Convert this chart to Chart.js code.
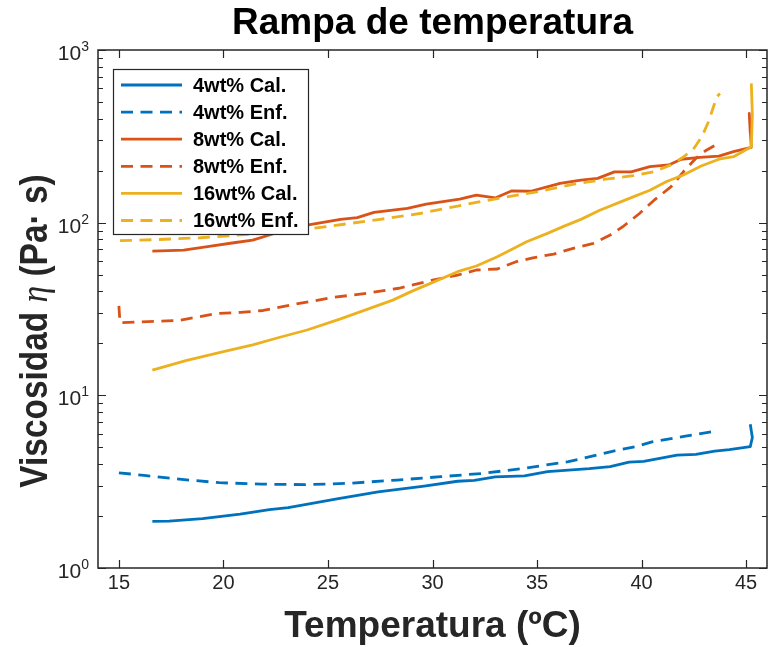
<!DOCTYPE html>
<html>
<head>
<meta charset="utf-8">
<script src="https://cdn.jsdelivr.net/npm/chart.js@4/dist/chart.umd.min.js"></script>
<style>
  html, body { margin: 0; padding: 0; background: #fff; }
  canvas { display: block; }
</style>
</head>
<body>
<canvas id="myChart" width="776" height="647"></canvas>
<script>
// temperatures (ºC) and viscosities (Pa·s)
const cal4T = [16.6, 17.4, 19.0, 20.8, 22.2, 23.1, 25.5, 27.4, 29.6, 31.2, 32.0, 33.0, 34.4, 35.5, 37.5, 38.5, 39.4, 40.1, 41.7, 42.6, 43.5, 44.2, 45.2, 45.3, 45.2];
const cal4V = [1.86, 1.87, 1.93, 2.05, 2.18, 2.24, 2.52, 2.76, 2.98, 3.18, 3.22, 3.37, 3.42, 3.62, 3.76, 3.86, 4.10, 4.15, 4.5, 4.55, 4.75, 4.85, 5.05, 5.7, 6.8];

const enf4T = [15.0, 16.2, 18.0, 19.8, 21.8, 23.9, 25.9, 28.3, 30.4, 32.4, 34.4, 36.5, 38.5, 39.7, 40.5, 42.1, 43.6];
const enf4V = [3.56, 3.44, 3.26, 3.12, 3.06, 3.04, 3.09, 3.23, 3.38, 3.53, 3.78, 4.13, 4.71, 5.04, 5.38, 5.81, 6.21];

const cal8T = [16.6, 18.1, 19.4, 20.5, 21.4, 22.7, 24.0, 25.6, 26.4, 27.2, 28.8, 29.7, 31.3, 32.1, 33.0, 33.8, 34.7, 36.1, 37.1, 37.9, 38.7, 39.5, 40.4, 41.3, 41.9, 42.8, 43.7, 44.4, 45.25, 45.15, 45.2];
const cal8V = [68.5, 69.4, 73.2, 76.5, 79.3, 88.6, 96.8, 104.5, 107, 114.7, 121, 128, 137, 144.5, 139, 153, 152, 169, 176.5, 180.5, 197, 197, 211, 216, 233, 239, 243, 258, 273, 430, 330];

const enf8T = [15.0, 15.05, 17.3, 17.9, 19.7, 20.8, 21.9, 23.7, 25.25, 26.85, 28.4, 30.0, 31.2, 32.1, 33.1, 34.0, 34.8, 35.8, 36.6, 37.7, 38.5, 39.1, 39.9, 40.6, 41.4, 42.0, 42.6, 43.1, 43.7];
const enf8V = [33, 26.3, 27.0, 27.2, 29.8, 30.2, 31.0, 34.2, 36.9, 39.0, 41.7, 46.5, 49.7, 53.2, 53.9, 59.4, 62.6, 65.8, 70.3, 75.9, 84.8, 94.7, 113, 135, 161, 197, 236, 263, 288];

const cal16T = [16.6, 18.2, 20.0, 21.4, 22.7, 24.0, 25.6, 27.0, 28.1, 29.0, 29.9, 31.2, 32.1, 33.1, 33.9, 34.5, 35.5, 36.3, 37.1, 38.0, 39.0, 39.6, 40.4, 41.2, 42.0, 42.85, 43.7, 44.4, 45.25, 45.3, 45.25];
const cal16V = [14.0, 15.9, 17.9, 19.6, 21.7, 23.9, 27.7, 31.9, 35.6, 40.0, 44.5, 52, 56.1, 63.5, 71, 77.5, 86.7, 95.5, 104.5, 118, 132, 141, 154, 173, 189, 213, 233, 241, 275, 420, 641];

const enf16T = [15.05, 16.8, 18.9, 21.5, 24.3, 26.05, 27.5, 29.4, 31.2, 33.1, 35.0, 36.7, 38.2, 38.7, 39.6, 40.6, 41.4, 42.0, 42.5, 42.9, 43.2, 43.6, 43.75];
const enf16V = [78.6, 79.8, 81.8, 86, 92.7, 99, 104.5, 113, 124.8, 138, 151, 166.7, 178, 181, 187, 197, 216, 240, 269, 317, 384, 536, 560];

const labels = ["4wt% Cal.", "4wt% Enf.", "8wt% Cal.", "8wt% Enf.", "16wt% Cal.", "16wt% Enf."];
const xTicks = [15, 20, 25, 30, 35, 40, 45];
const yTicks = [1, 10, 100, 1000];
const yTickExp = ["0", "1", "2", "3"];

const blue = "#0072BD", orange = "#D95319", yellow = "#EDB120";
const axisColor = "#262626";
const FONT = '"Liberation Sans", Arial, Helvetica, sans-serif';

function pts(t, v) {
  return t.map((x, i) => ({ x: x, y: v[i] }));
}

function line(i, t, v, color, dashed) {
  return {
    label: labels[i],
    data: pts(t, v),
    borderColor: color,
    backgroundColor: color,
    borderWidth: 2.8,
    borderDash: dashed ? [12, 7.5] : [],
    pointRadius: 0,
    tension: 0,
    fill: false,
    borderJoinStyle: "round",
    order: 5 - i,
  };
}

const datasets = [
  line(0, cal4T, cal4V, blue, false),
  line(1, enf4T, enf4V, blue, true),
  line(2, cal8T, cal8V, orange, false),
  line(3, enf8T, enf8V, orange, true),
  line(4, cal16T, cal16V, yellow, false),
  line(5, enf16T, enf16V, yellow, true),
];

// box, inward ticks, labels, titles and legend in the MATLAB look
const frame = {
  id: "frame",
  afterDatasetsDraw(chart) {
    const ctx = chart.ctx;
    const a = chart.chartArea;
    const xs = chart.scales.x;
    const ys = chart.scales.y;
    ctx.save();

    // ticks
    ctx.strokeStyle = axisColor;
    ctx.lineWidth = 1.2;
    ctx.setLineDash([]);
    ctx.beginPath();
    xTicks.forEach((v) => {
      const px = Math.round(xs.getPixelForValue(v)) + 0.5;
      ctx.moveTo(px, a.bottom); ctx.lineTo(px, a.bottom - 8);
      ctx.moveTo(px, a.top); ctx.lineTo(px, a.top + 8);
    });
    for (let e = 0; e < 3; e++) {
      for (let m = 1; m <= 10; m++) {
        const v = m * Math.pow(10, e);
        const py = Math.round(ys.getPixelForValue(v)) + 0.5;
        const len = (m === 1 || m === 10) ? 8 : 5;
        ctx.moveTo(a.left, py); ctx.lineTo(a.left + len, py);
        ctx.moveTo(a.right, py); ctx.lineTo(a.right - len, py);
      }
    }
    ctx.stroke();

    // box
    ctx.lineWidth = 1.5;
    ctx.strokeRect(a.left, a.top, a.right - a.left, a.bottom - a.top);

    // tick labels
    ctx.fillStyle = axisColor;
    ctx.font = "20px " + FONT;
    ctx.textAlign = "center";
    ctx.textBaseline = "middle";
    xTicks.forEach((v) => {
      ctx.fillText(String(v), xs.getPixelForValue(v), a.bottom + 15);
    });
    yTicks.forEach((v, i) => {
      const py = ys.getPixelForValue(v);
      ctx.font = "14px " + FONT;
      const ew = ctx.measureText(yTickExp[i]).width;
      ctx.textAlign = "right";
      ctx.textBaseline = "alphabetic";
      const right = a.left - 9;
      ctx.fillText(yTickExp[i], right, py + 1);
      ctx.font = "21px " + FONT;
      ctx.fillText("10", right - ew, py + 10);
    });

    // title
    ctx.fillStyle = "#000";
    ctx.font = "bold 37px " + FONT;
    ctx.textAlign = "center";
    ctx.textBaseline = "middle";
    ctx.fillText("Rampa de temperatura", (a.left + a.right) / 2, 24);

    // x axis title
    ctx.fillStyle = axisColor;
    ctx.font = "bold 37px " + FONT;
    ctx.fillText("Temperatura (ºC)", (a.left + a.right) / 2, 627);

    // y axis title, mixed fonts, slightly condensed along its length
    const parts = [
      ["Viscosidad ", "bold 38px " + FONT],
      ["η", 'italic 38px "Liberation Serif", "DejaVu Serif", serif'],
      [" (Pa· s)", "bold 38px " + FONT],
    ];
    const sq = 0.88;
    let total = 0;
    parts.forEach((p) => { ctx.font = p[1]; p.push(ctx.measureText(p[0]).width); total += p[2]; });
    ctx.translate(37, 331);
    ctx.rotate(-Math.PI / 2);
    ctx.scale(sq, 1);
    ctx.textAlign = "left";
    let cx = -total / 2;
    parts.forEach((p) => { ctx.font = p[1]; ctx.fillText(p[0], cx, 0); cx += p[2]; });
    ctx.setTransform(1, 0, 0, 1, 0, 0);

    // legend
    const lx = 113, ly = 69, lw = 195, lh = 165;
    ctx.fillStyle = "#fff";
    ctx.fillRect(lx, ly, lw, lh);
    ctx.strokeStyle = axisColor;
    ctx.lineWidth = 1.2;
    ctx.strokeRect(lx + 0.5, ly + 0.5, lw, lh);
    chart.data.datasets.forEach((ds, i) => {
      const cy = ly + 16 + i * 27.1;
      ctx.strokeStyle = ds.borderColor;
      ctx.lineWidth = ds.borderWidth;
      ctx.setLineDash(ds.borderDash);
      ctx.beginPath();
      ctx.moveTo(121, cy); ctx.lineTo(182, cy);
      ctx.stroke();
      ctx.setLineDash([]);
      ctx.fillStyle = "#000";
      ctx.font = "bold 20px " + FONT;
      ctx.textAlign = "left";
      ctx.textBaseline = "middle";
      ctx.fillText(ds.label, 193, cy + 1);
    });
    ctx.restore();
  },
};

new Chart("myChart", {
  type: "line",
  data: { datasets: datasets },
  options: {
    responsive: false,
    animation: false,
    devicePixelRatio: 1,
    layout: { padding: { top: 50, right: 9, left: 0, bottom: 0 } },
    plugins: { legend: { display: false }, title: { display: false }, tooltip: { enabled: false } },
    scales: {
      x: {
        type: "linear",
        min: 14,
        max: 46,
        afterBuildTicks: (s) => { s.ticks = xTicks.map((v) => ({ value: v })); },
        afterFit: (s) => { s.height = 79; },
        ticks: { display: false },
        grid: { display: false },
        border: { display: false },
      },
      y: {
        type: "logarithmic",
        min: 1,
        max: 1000,
        afterBuildTicks: (s) => { s.ticks = yTicks.map((v) => ({ value: v })); },
        afterFit: (s) => { s.width = 98; },
        ticks: { display: false },
        grid: { display: false },
        border: { display: false },
      },
    },
  },
  plugins: [frame],
});
</script>
</body>
</html>
